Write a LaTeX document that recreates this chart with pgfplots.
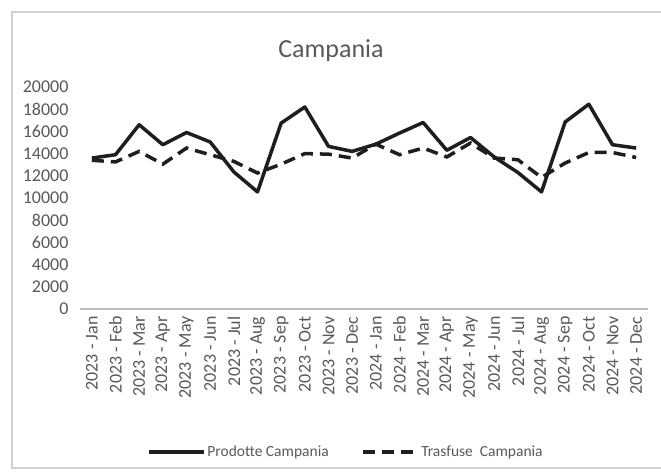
\documentclass[border=0pt]{standalone}
\usepackage{pgfplots}
\pgfplotsset{compat=1.18}
\usepackage{fontspec}
\setmainfont{Carlito}
\definecolor{txtgray}{HTML}{595959}
\definecolor{framegray}{HTML}{D0D0D0}
\definecolor{axgray}{HTML}{BFBFBF}
\definecolor{linedark}{HTML}{1E1E1E}

\pgfplotstableread{
idx prodotte trasfuse
0  13600 13400
1  13900 13250
2  16600 14200
3  14800 13050
4  15900 14500
5  15050 13900
6  12350 13300
7  10550 12250
8  16750 13050
9  18200 14000
10 14650 13950
11 14200 13600
12 14850 14850
13 15850 13900
14 16800 14500
15 14300 13700
16 15450 14950
17 13700 13600
18 12300 13450
19 10550 11850
20 16850 13150
21 18450 14100
22 14800 14100
23 14500 13650
}\campania

\begin{document}
\begin{tikzpicture}[x=1pt,y=1pt]
\useasboundingbox (0,0) rectangle (661,475);
\begin{scope}
\clip (0,0) rectangle (661,475);
\draw[framegray, line width=1.2pt] (12,7) rectangle (680,463);
\end{scope}
\node[font=\fontsize{26}{30}\selectfont, text=txtgray] at (331,424) {Campania};
\begin{axis}[
  at={(80pt,166pt)}, anchor=south west,
  scale only axis, width=568pt, height=222pt,
  xmin=-0.5, xmax=23.5, ymin=0, ymax=20000,
  xtick={0,...,23},
  xticklabels={2023 - Jan,2023 - Feb,2023 - Mar,2023 - Apr,2023 - May,2023 - Jun,2023 - Jul,2023 - Aug,2023 - Sep,2023 - Oct,2023 - Nov,2023 - Dec,2024 - Jan,2024 - Feb,2024 - Mar,2024 - Apr,2024 - May,2024 - Jun,2024 - Jul,2024 - Aug,2024 - Sep,2024 - Oct,2024 - Nov,2024 - Dec},
  ytick={0,2000,...,20000},
  scaled y ticks=false,
  major tick length=0pt,
  axis x line*=bottom, axis y line*=left,
  x axis line style={-, axgray, line width=1.2pt},
  y axis line style={draw=none},
  /pgf/number format/assume math mode=true,
  /pgf/number format/1000 sep={},
  /pgf/number format/fixed,
  tick label style={text=txtgray, font=\fontsize{18}{20}\selectfont},
  xticklabel style={rotate=90, anchor=east, xshift=-4pt},
  yticklabel style={xshift=-8pt},
  legend columns=2,
  legend style={at={(0.468,-0.644)}, anchor=center, draw=none, fill=none,
    font=\fontsize{15.5}{17}\selectfont, text=txtgray,
    /tikz/every even column/.append style={column sep=30pt}},
  legend image code/.code={\draw[#1] (0pt,0pt) -- (55pt,0pt);},
]
\addplot[linedark, line width=3.5pt, line join=round] table[x=idx, y=prodotte] {\campania};
\addlegendentry{Prodotte Campania}
\addplot[linedark, line width=3.5pt, dash pattern=on 12pt off 7pt] table[x=idx, y=trasfuse] {\campania};
\addlegendentry{Trasfuse\ \ Campania}
\end{axis}
\end{tikzpicture}
\end{document}
